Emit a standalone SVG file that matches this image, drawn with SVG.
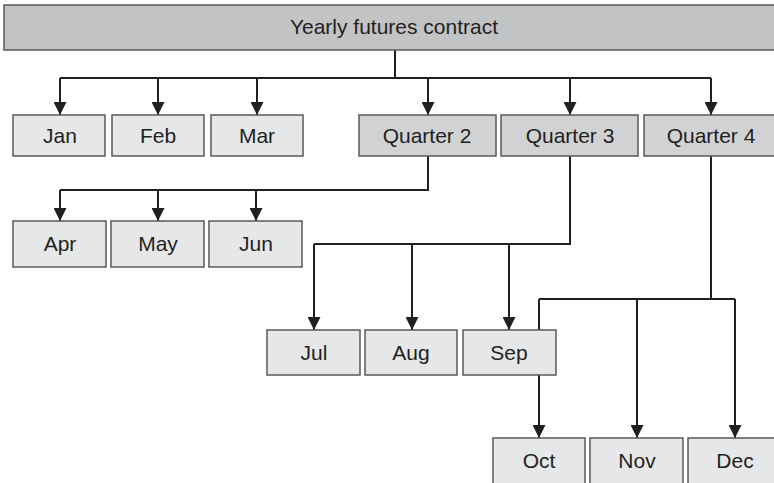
<svg xmlns="http://www.w3.org/2000/svg" width="774" height="483" viewBox="0 0 774 483">
<style>
.m{fill:#e6e7e8;stroke:#58595b;stroke-width:1.5}
.q{fill:#d1d2d4;stroke:#58595b;stroke-width:1.5}
.t{fill:#c2c3c5;stroke:#58595b;stroke-width:1.5}
text{font-family:"Liberation Sans",Arial,sans-serif;font-size:21px;fill:#231f20;text-anchor:middle}
.c path{fill:none;stroke:#231f20;stroke-width:2}
</style>
<defs>
<marker id="a" viewBox="0 0 13 13" refX="13" refY="6.5" markerWidth="13" markerHeight="13" markerUnits="userSpaceOnUse" orient="auto">
<path d="M0,0 L13,6.5 L0,13 z" fill="#231f20"/>
</marker>
</defs>
<rect width="774" height="483" fill="#fff"/>
<g class="c" id="connectors">
<path d="M395,50 V78 M60,78 H711"/>
<path d="M60,78 V115" marker-end="url(#a)"/>
<path d="M158,78 V115" marker-end="url(#a)"/>
<path d="M257,78 V115" marker-end="url(#a)"/>
<path d="M428,78 V115" marker-end="url(#a)"/>
<path d="M570,78 V115" marker-end="url(#a)"/>
<path d="M711,78 V115" marker-end="url(#a)"/>
<path d="M428,156 V190 H60"/>
<path d="M60,190 V221" marker-end="url(#a)"/>
<path d="M158,190 V221" marker-end="url(#a)"/>
<path d="M256,190 V221" marker-end="url(#a)"/>
<path d="M570,156 V244 H314"/>
<path d="M314,244 V330" marker-end="url(#a)"/>
<path d="M412,244 V330" marker-end="url(#a)"/>
<path d="M509,244 V330" marker-end="url(#a)"/>
<path d="M711,156 V299 M539,299 H735"/>
<path d="M539,299 V438" marker-end="url(#a)"/>
<path d="M637,299 V438" marker-end="url(#a)"/>
<path d="M735,299 V438" marker-end="url(#a)"/>
</g>
<g id="year"><rect class="t" x="4" y="5" width="790" height="45"/><text x="394" y="34">Yearly futures contract</text></g>
<g id="jan"><rect class="m" x="13" y="115" width="92" height="41"/><text x="60" y="143">Jan</text></g>
<g id="feb"><rect class="m" x="112" y="115" width="92" height="41"/><text x="158" y="143">Feb</text></g>
<g id="mar"><rect class="m" x="211" y="115" width="92" height="41"/><text x="257" y="143">Mar</text></g>
<g id="q2"><rect class="q" x="359" y="115" width="137" height="41"/><text x="427" y="143">Quarter 2</text></g>
<g id="q3"><rect class="q" x="501" y="115" width="137" height="41"/><text x="570" y="143">Quarter 3</text></g>
<g id="q4"><rect class="q" x="644" y="115" width="150" height="41"/><text x="711" y="143">Quarter 4</text></g>
<g id="apr"><rect class="m" x="13" y="221" width="93" height="46"/><text x="60" y="251">Apr</text></g>
<g id="may"><rect class="m" x="111" y="221" width="93" height="46"/><text x="158" y="251">May</text></g>
<g id="jun"><rect class="m" x="209" y="221" width="93" height="46"/><text x="256" y="251">Jun</text></g>
<g id="jul"><rect class="m" x="267" y="330" width="93" height="45"/><text x="314" y="360">Jul</text></g>
<g id="aug"><rect class="m" x="365" y="330" width="92" height="45"/><text x="411" y="360">Aug</text></g>
<g id="sep"><rect class="m" x="463" y="330" width="93" height="45"/><text x="509" y="360">Sep</text></g>
<g id="oct"><rect class="m" x="493" y="438" width="92" height="60"/><text x="539" y="468">Oct</text></g>
<g id="nov"><rect class="m" x="590" y="438" width="93" height="60"/><text x="637" y="468">Nov</text></g>
<g id="dec"><rect class="m" x="688" y="438" width="100" height="60"/><text x="735" y="468">Dec</text></g>
</svg>
